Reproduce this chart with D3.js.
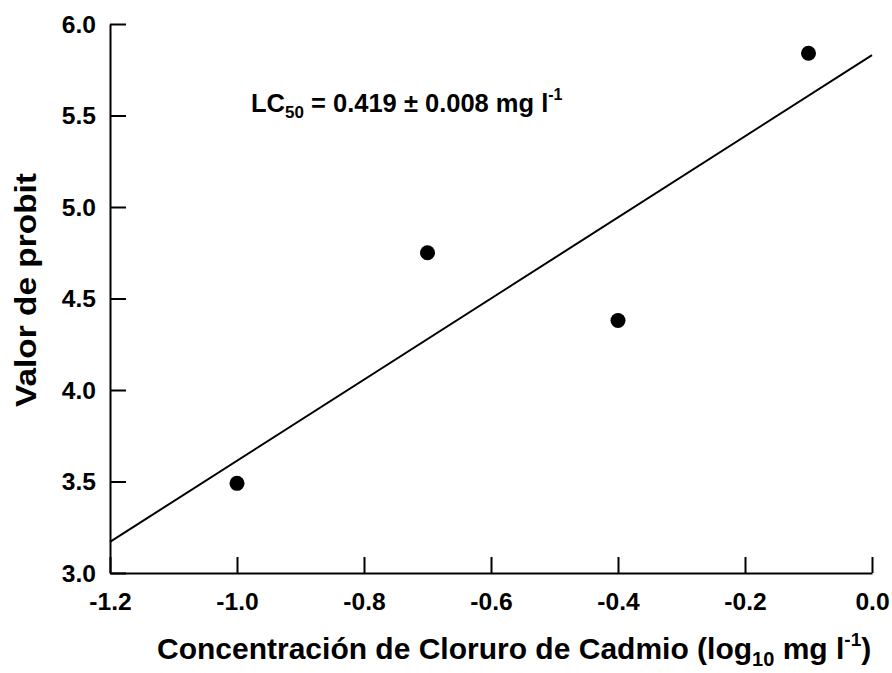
<!DOCTYPE html>
<html>
<head>
<meta charset="utf-8">
<script src="https://cdn.jsdelivr.net/npm/d3@7"></script>
<style>
  html, body { margin: 0; padding: 0; background: #fff; }
  svg { display: block; }
  text { font-family: "Liberation Sans", Arial, sans-serif; font-weight: bold; fill: #000; }
</style>
</head>
<body>
<svg id="chart" width="892" height="673"></svg>
<script>
// Log10 concentration of cadmium chloride (mg/l) and observed probit values
const logConc = [-1.0, -0.7, -0.4, -0.1];
const probit = [3.49, 4.75, 4.38, 5.84];

// Fitted probit line, evaluated at the two ends of the x range
const fitX = [-1.2, 0.0];
const fitY = [3.17, 5.83];

// Axis ticks and their labels
const xTicks = [-1.2, -1.0, -0.8, -0.6, -0.4, -0.2, 0.0];
const xTickLabels = ["-1.2", "-1.0", "-0.8", "-0.6", "-0.4", "-0.2", "0.0"];
const yTicks = [3.0, 3.5, 4.0, 4.5, 5.0, 5.5, 6.0];
const yTickLabels = ["3.0", "3.5", "4.0", "4.5", "5.0", "5.5", "6.0"];

const svg = d3.select("#chart");
const margin = { left: 110, right: 20, top: 24, bottom: 100 };
const W = 892, H = 673;

const x = d3.scaleLinear().domain([-1.2, 0.0]).range([margin.left, W - margin.right]);
const y = d3.scaleLinear().domain([3.0, 6.0]).range([H - margin.bottom, margin.top]);

// Axes with ticks pointing into the plot
const xAxis = d3.axisBottom(x)
  .tickValues(xTicks)
  .tickFormat((d, i) => xTickLabels[i])
  .tickSizeInner(-16).tickSizeOuter(0).tickPadding(21);
const yAxis = d3.axisLeft(y)
  .tickValues(yTicks)
  .tickFormat((d, i) => yTickLabels[i])
  .tickSizeInner(-16).tickSizeOuter(0).tickPadding(14);

const gx = svg.append("g").attr("transform", `translate(0,${y(3.0)})`).call(xAxis);
const gy = svg.append("g").attr("transform", `translate(${x(-1.2)},0)`).call(yAxis);

// Slightly widened bold tick labels
function widen(sel, k) {
  sel.each(function () {
    const w = this.getComputedTextLength();
    d3.select(this).attr("textLength", w * k).attr("lengthAdjust", "spacingAndGlyphs");
  });
}

[gx, gy].forEach(g => {
  g.select(".domain").attr("stroke", "#000").attr("stroke-width", 2);
  g.selectAll(".tick line").attr("stroke", "#000").attr("stroke-width", 2);
  g.selectAll(".tick text")
    .style("font-family", '"Liberation Sans", Arial, sans-serif')
    .style("font-weight", "bold")
    .style("font-size", "23px")
    .attr("fill", "#000");
  widen(g.selectAll(".tick text"), 1.07);
});
gy.selectAll(".tick text").attr("dy", "0.36em");

// Fitted line
svg.append("line")
  .attr("x1", x(fitX[0])).attr("y1", y(fitY[0]))
  .attr("x2", x(fitX[1])).attr("y2", y(fitY[1]))
  .attr("stroke", "#000").attr("stroke-width", 2);

// Observed points
svg.append("g").selectAll("circle")
  .data(logConc.map((c, i) => [c, probit[i]]))
  .join("circle")
  .attr("cx", d => x(d[0]))
  .attr("cy", d => y(d[1]))
  .attr("r", 7.5)
  .attr("fill", "#000");

// LC50 annotation
const lc = svg.append("text")
  .attr("x", 251).attr("y", 112)
  .style("font-size", "25.5px");
lc.append("tspan").text("LC");
lc.append("tspan").attr("dy", 6).style("font-size", "17px").text("50");
lc.append("tspan").attr("dy", -6).text(" = 0.419 \u00b1 0.008 mg l");
lc.append("tspan").attr("dy", -12).style("font-size", "16px").text("-1");

// X axis title
const xt = svg.append("text")
  .attr("x", 157).attr("y", 659)
  .style("font-size", "30px");
xt.append("tspan").text("Concentración de Cloruro de Cadmio (log");
xt.append("tspan").attr("dy", 7).style("font-size", "20px").text("10");
xt.append("tspan").attr("dy", -7).text(" mg l");
xt.append("tspan").attr("dy", -13).style("font-size", "19px").text("-1");
xt.append("tspan").attr("dy", 13).text(")");

// Y axis title
svg.append("text")
  .attr("transform", `translate(36,290) rotate(-90)`)
  .attr("text-anchor", "middle")
  .attr("textLength", 234)
  .attr("lengthAdjust", "spacingAndGlyphs")
  .style("font-size", "29px")
  .text("Valor de probit");
</script>
</body>
</html>
